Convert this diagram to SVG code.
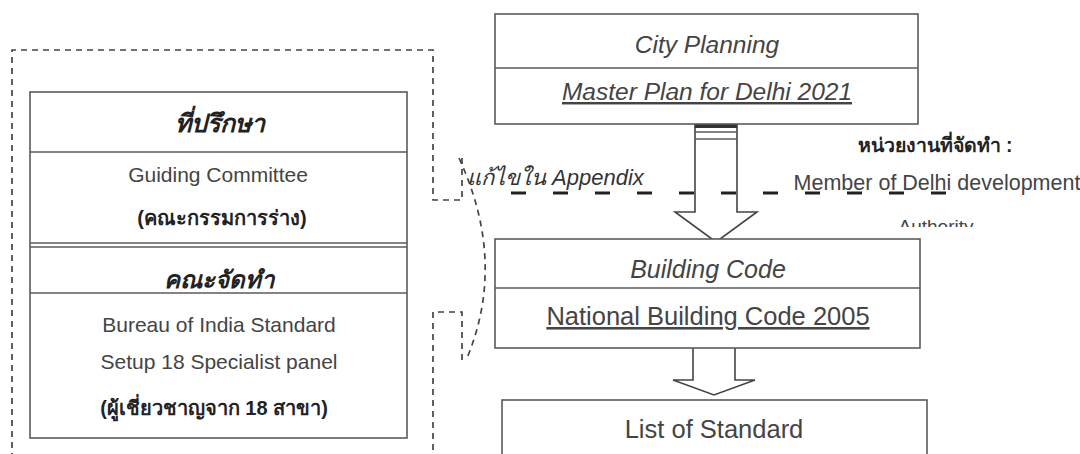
<svg xmlns="http://www.w3.org/2000/svg" width="1080" height="454" viewBox="0 0 1080 454">
<defs>
<style>
.box{fill:#fff;stroke:#5a5a5a;stroke-width:1.6}
.ln{stroke:#5a5a5a;stroke-width:1.6;fill:none}
.dash{fill:none;stroke:#444;stroke-width:1.7;stroke-dasharray:6 5}
.en{font-family:"Liberation Sans",Arial,sans-serif;fill:#444;text-anchor:middle}
.th{font-family:"Liberation Sans","Noto Sans",sans-serif;fill:#222;text-anchor:middle;font-weight:bold}
.arrow{fill:#fff;stroke:#444;stroke-width:1.6}
</style>
<clipPath id="authClip"><rect x="850" y="200" width="200" height="27"/></clipPath>
</defs>
<rect width="1080" height="454" fill="#fff"/>

<g id="connectors">
<path class="dash" d="M462 158 L462 200 L433 200 L433 50 L12 50 L12 454"/>
<path class="dash" d="M462 360 L462 312 L433 312 L433 454"/>
<path class="dash" d="M459 158 Q507 262 467 358"/>
<g id="arrow1">
<path class="arrow" d="M695 123 L737 123 L737 212 L757 212 L716 242 L675 212 L695 212 Z"/>
<rect x="695" y="123" width="42" height="5" fill="#333"/>
<line class="ln" x1="695" y1="132" x2="737" y2="132"/>
<line class="ln" x1="695" y1="139" x2="737" y2="139"/>
</g>
<g id="arrow2">
<path class="arrow" d="M693 340 L735 340 L735 380 L755 380 L714 395 L673 380 L693 380 Z"/>
<rect x="693" y="340" width="42" height="5" fill="#333"/>
</g>
<line x1="511" y1="193" x2="955" y2="193" stroke="#222" stroke-width="3.2" stroke-dasharray="15 27"/>
</g>

<g id="left-panel">
<rect class="box" x="30" y="92" width="377" height="346"/>
<line class="ln" x1="30" y1="152" x2="407" y2="152"/>
<line class="ln" x1="30" y1="243" x2="407" y2="243"/>
<line class="ln" x1="30" y1="247" x2="407" y2="247"/>
<line class="ln" x1="30" y1="293" x2="407" y2="293"/>
<text class="th" x="220" y="132" font-size="25" font-style="italic">ที่ปรึกษา</text>
<text class="en" x="218" y="182" font-size="21">Guiding Committee</text>
<text class="th" x="222" y="225" font-size="20">(คณะกรรมการร่าง)</text>
<text class="th" x="219" y="288" font-size="24" font-style="italic">คณะจัดทำ</text>
<text class="en" x="219" y="332" font-size="21">Bureau of India Standard</text>
<text class="en" x="219" y="369" font-size="21">Setup 18 Specialist panel</text>
<text class="th" x="214" y="415" font-size="20">(ผู้เชี่ยวชาญจาก 18 สาขา)</text>
</g>

<g id="city-planning">
<rect class="box" x="495" y="14" width="423" height="110"/>
<line class="ln" x1="495" y1="68" x2="918" y2="68"/>
<text class="en" x="707" y="53" font-size="24.5" font-style="italic">City Planning</text>
<text class="en" x="707" y="100" font-size="24.5" font-style="italic" text-decoration="underline">Master Plan for Delhi 2021</text>
</g>

<g id="appendix-note">
<text x="467" y="185" font-family="'Liberation Sans','Noto Sans',sans-serif" font-size="22" font-style="italic" fill="#333">แก้ไขใน Appendix</text>
</g>

<g id="agency">
<text class="th" x="935" y="152" font-size="19.5">หน่วยงานที่จัดทำ :</text>
<text class="en" x="937" y="190" font-size="21.5" fill="#333">Member of Delhi development</text>
<text class="en" x="936" y="233" font-size="19" fill="#333" clip-path="url(#authClip)">Authority</text>
</g>

<g id="building-code">
<rect class="box" x="495" y="239" width="425" height="109"/>
<line class="ln" x1="495" y1="288" x2="920" y2="288"/>
<text class="en" x="708" y="278" font-size="25" font-style="italic">Building Code</text>
<text class="en" x="708" y="325" font-size="25.5" fill="#333" text-decoration="underline">National Building Code 2005</text>
</g>

<g id="list-standard">
<rect class="box" x="502" y="400" width="425" height="70"/>
<text class="en" x="714" y="438" font-size="25.5" fill="#3a3a3a">List of Standard</text>
</g>
</svg>
